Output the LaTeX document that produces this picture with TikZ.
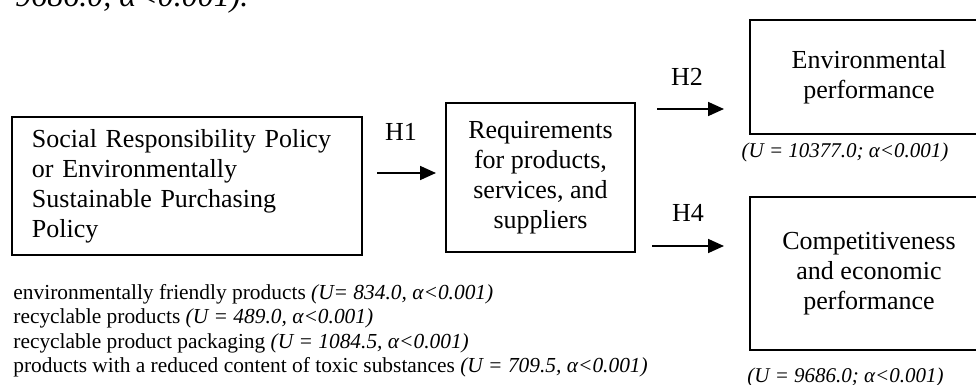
\documentclass[tikz,border=0pt]{standalone}
\usepackage{fontspec}
\setmainfont{Liberation Serif}
\usetikzlibrary{arrows.meta}

\begin{document}
\begin{tikzpicture}[x=0.5pt,y=-0.5pt,
  box/.style={draw,line width=0.6pt,inner sep=0pt,font=\fontsize{13}{15}\selectfont},
  link/.style={-{Triangle[length=8pt,width=7pt]},line width=0.9pt},
  stat/.style={inner sep=0pt,font=\fontsize{10.5}{13}\selectfont\itshape}]
\useasboundingbox (0,0) rectangle (976,385);
% last line of the text above, cut off
\node[anchor=base west,inner sep=0pt,font=\fontsize{16}{18}\selectfont\itshape] (caption) at (15,7) {9686.0, α<0.001).};
% boxes
\node[box,minimum width=175pt,minimum height=69pt,text width=155pt,align=left] (policy) at (187,186)
  {Social Responsibility Policy\\ or Environmentally\\ Sustainable Purchasing\\ Policy};
\node[box,minimum width=94.5pt,minimum height=74.5pt,align=center] (req) at (540.5,177.5)
  {Requirements\\ for products,\\ services, and\\ suppliers};
\node[box,minimum width=119pt,minimum height=57pt,align=center] (env) at (869,77)
  {Environmental\\ performance};
\node[box,minimum width=119pt,minimum height=76.5pt,align=center] (comp) at (869,273.5)
  {Competitiveness\\ and economic\\ performance};
% test results
\node[stat] (envstat) at (845,152) {(U = 10377.0; α<0.001)};
\node[stat] (compstat) at (845.5,377) {(U = 9686.0; α<0.001)};
\node[anchor=north west,inner sep=0pt,align=left,font=\fontsize{10.7}{12.2}\selectfont] (items) at (13,284)
  {environmentally friendly products \textit{(U= 834.0, α<0.001)}\\
   recyclable products \textit{(U = 489.0, α<0.001)}\\
   recyclable product packaging \textit{(U = 1084.5, α<0.001)}\\
   products with a reduced content of toxic substances \textit{(U = 709.5, α<0.001)}};
% hypotheses
\foreach \Name/\Start/\End/\Level in {h1/377/436/173, h2/657/724/109, h4/652/724/246}
{
  \coordinate (\Name s) at (\Start,\Level);
  \coordinate (\Name e) at (\End,\Level);
  \draw[link] (\Name s) -- (\Name e);
}
\foreach \Name/\Point/\Label in {h1/{(401,132)}/H1, h2/{(687,77)}/H2, h4/{(688,213)}/H4}
  \node[font=\fontsize{13}{15}\selectfont] (\Name) at \Point {\Label};
\end{tikzpicture}
\end{document}
